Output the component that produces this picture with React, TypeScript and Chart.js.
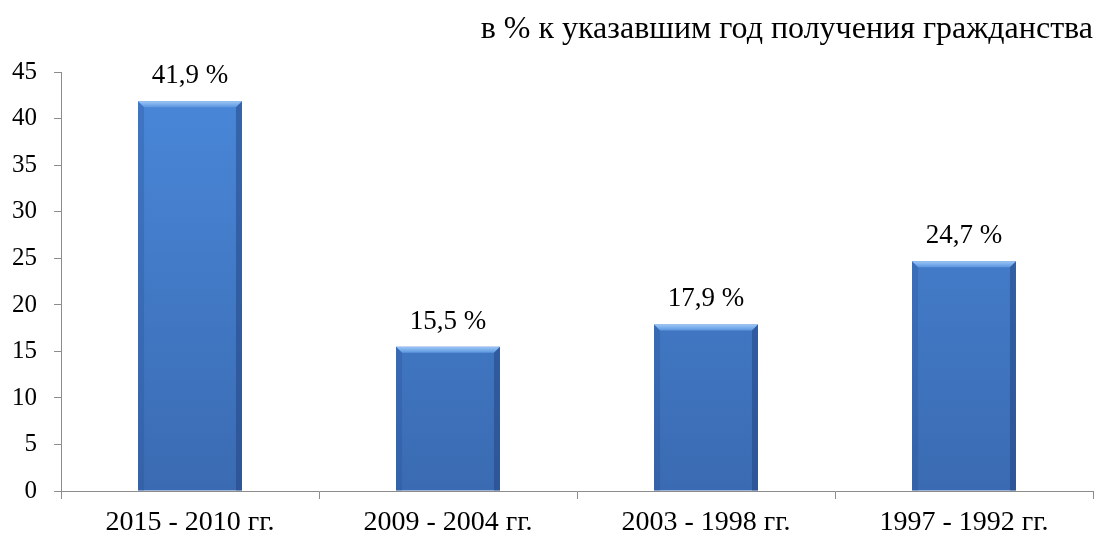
import React, { useEffect, useRef } from "react";
import { Chart, registerables } from "chart.js";

Chart.register(...registerables);

const categories = ["2015 - 2010 гг.", "2009 - 2004 гг.", "2003 - 1998 гг.", "1997 - 1992 гг."];
const values = [41.9, 15.5, 17.9, 24.7];
const valueLabels = ["41,9 %", "15,5 %", "17,9 %", "24,7 %"];
const titleText = "в % к указавшим год получения гражданства";

const FONT = "'Liberation Serif', 'Times New Roman', serif";
const FS = 27;
const X_FS = 28;
const Y_FS = 25;
const TITLE_FS = 32;

const bevelPlugin = {
  id: "bevel",
  afterDatasetsDraw(chart: any) {
    const ctx = chart.ctx;
    const meta = chart.getDatasetMeta(0);
    meta.data.forEach((bar: any, i: number) => {
      const { x, y, base, width } = bar.getProps(["x", "y", "base", "width"], true);
      const l = x - width / 2;
      const r = x + width / 2;
      const b = 6;
      ctx.save();
      // top bevel
      const tg = ctx.createLinearGradient(0, y, 0, y + b);
      tg.addColorStop(0, "#9cc6f6");
      tg.addColorStop(1, "#5b96e0");
      ctx.fillStyle = tg;
      ctx.beginPath();
      ctx.moveTo(l, y);
      ctx.lineTo(r, y);
      ctx.lineTo(r - b, y + b);
      ctx.lineTo(l + b, y + b);
      ctx.closePath();
      ctx.fill();
      // left bevel
      ctx.fillStyle = "rgba(40,80,150,0.30)";
      ctx.beginPath();
      ctx.moveTo(l, y);
      ctx.lineTo(l + b, y + b);
      ctx.lineTo(l + b, base);
      ctx.lineTo(l, base);
      ctx.closePath();
      ctx.fill();
      // right bevel
      ctx.fillStyle = "rgba(30,60,120,0.45)";
      ctx.beginPath();
      ctx.moveTo(r, y);
      ctx.lineTo(r - b, y + b);
      ctx.lineTo(r - b, base);
      ctx.lineTo(r, base);
      ctx.closePath();
      ctx.fill();
      // label
      ctx.fillStyle = "#000";
      ctx.font = `${FS}px ${FONT}`;
      ctx.textAlign = "center";
      ctx.textBaseline = "alphabetic";
      ctx.fillText(valueLabels[i], x, y - 18);
      ctx.restore();
    });
  },
};

export default function App() {
  const ref = useRef<HTMLCanvasElement>(null);
  useEffect(() => {
    const canvas = ref.current!;
    const ctx = canvas.getContext("2d")!;
    const chart = new Chart(ctx, {
      type: "bar",
      data: {
        labels: categories,
        datasets: [
          {
            data: values,
            backgroundColor: (c: any) => {
              const area = c.chart.chartArea;
              if (!area) return "#4a86d8";
              const g = c.chart.ctx.createLinearGradient(0, area.top, 0, area.bottom);
              g.addColorStop(0, "#4a88da");
              g.addColorStop(1, "#3a6bb2");
              return g;
            },
            borderWidth: 0,
            barPercentage: 0.403,
            categoryPercentage: 1,
          },
        ],
      },
      options: {
        animation: false,
        responsive: false,
        maintainAspectRatio: false,
        layout: { padding: { left: 0, right: 11, top: 0, bottom: 0 } },
        plugins: {
          legend: { display: false },
          tooltip: { enabled: false },
          title: {
            display: true,
            text: titleText,
            align: "end",
            color: "#000",
            font: { family: FONT, size: TITLE_FS, weight: "normal", lineHeight: 1.2 },
            padding: { top: 10, bottom: 24 },
          },
        },
        scales: {
          x: {
            afterFit: (s: any) => {
              s.height = 44;
            },
            grid: { offset: true, drawOnChartArea: false, tickLength: 8, color: "#8c8c8c" },
            border: { color: "#8c8c8c", width: 1 },
            ticks: { color: "#000", font: { family: FONT, size: X_FS, lineHeight: 1.2 }, padding: 7, maxRotation: 0 },
          },
          y: {
            min: 0,
            max: 45,
            afterFit: (s: any) => {
              s.width = 61;
            },
            grid: { drawOnChartArea: false, tickLength: 7, color: "#8c8c8c" },
            border: { color: "#8c8c8c", width: 1 },
            ticks: { stepSize: 5, color: "#000", font: { family: FONT, size: Y_FS }, padding: 17 },
          },
        },
      },
      plugins: [bevelPlugin],
    });
    return () => chart.destroy();
  }, []);
  return (
    <div style={{ position: "absolute", left: 0, top: 0, width: 1104, height: 535, background: "#fff" }}>
      <canvas ref={ref} width={1104} height={535} />
    </div>
  );
}
